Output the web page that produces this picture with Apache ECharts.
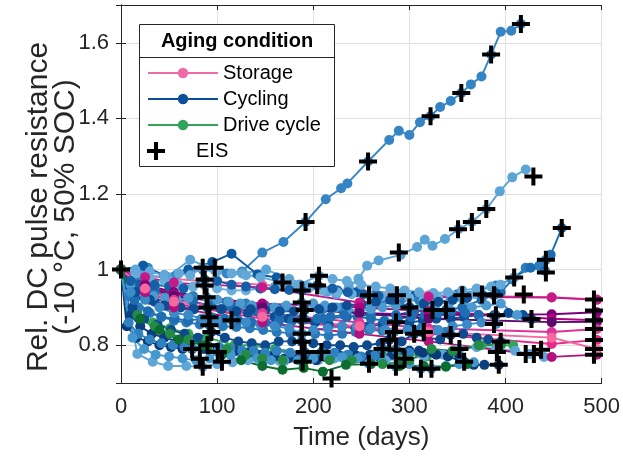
<!DOCTYPE html>
<html><head><meta charset="utf-8">
<script src="https://cdn.jsdelivr.net/npm/echarts@6/dist/echarts.min.js"></script>
<style>html,body{margin:0;padding:0;background:#fff}#c{width:623px;height:456px}</style>
</head><body><div id="c"></div>
<script>
// ---- data ----
const storageDays = [0, 25, 55, 147, 248, 320, 448, 495];
const storage1 = [1.0, 0.985, 0.975, 0.96, 0.945, 0.932, 0.927, 0.921];
const storage2 = [1.0, 0.98, 0.965, 0.953, 0.913, 0.928, 0.926, 0.92];
const storage3 = [1.0, 0.96, 0.94, 0.905, 0.885, 0.88, 0.882, 0.887];
const storage4 = [1.0, 0.96, 0.935, 0.91, 0.9, 0.89, 0.87, 0.866];
const storage5 = [1.0, 0.955, 0.93, 0.9, 0.885, 0.87, 0.861, 0.862];
const storage6 = [1.0, 0.95, 0.92, 0.885, 0.86, 0.845, 0.835, 0.843];
const storage7 = [1.0, 0.945, 0.91, 0.87, 0.845, 0.83, 0.803, 0.814];
const storage8 = [1.0, 0.94, 0.9, 0.86, 0.83, 0.81, 0.769, 0.775];
const storage9 = [1.0, 0.95, 0.915, 0.875, 0.85, 0.835, 0.82, 0.79];

const cycA = [[0,1],[10,0.95],[22,0.93],[35,0.915],[48,0.905],[62,0.9],[76,0.895],[90,0.9],[104,0.895],[118,0.89],[132,0.885],[146,0.88],[160,0.875],[174,0.87],[188,0.866],[202,0.86],[216,0.855],[230,0.85],[244,0.845],[258,0.85],[272,0.855],[286,0.861],[300,0.86],[314,0.865],[328,0.87],[343,0.87],[357,0.875],[372,0.88],[388,0.879],[403,0.885],[418,0.88],[427,0.869]];
const cycB = [[0,1],[23,1.01],[28,1.005],[48,0.98],[58,0.987],[85,1.0],[110,0.99],[126,0.995],[147,1.045],[169,1.073],[192,1.126],[213,1.186],[229,1.215],[235.5,1.228],[257,1.286],[279,1.343],[289,1.367],[300,1.356],[311,1.39],[322,1.406],[332,1.43],[343,1.446],[354,1.467],[364,1.49],[375,1.511],[385,1.569],[395,1.629],[406,1.632],[416,1.65]];
const cycC = [[0,1],[20,0.985],[48,0.98],[72,1.026],[97,1.0],[126,0.99],[151,1.0],[175,0.975],[195,0.955],[214,0.94],[224,0.935],[237,0.953],[247,0.976],[256,1.01],[268,1.024],[291,1.039],[308,1.06],[316,1.079],[324,1.063],[337,1.081],[351,1.107],[365,1.126],[380,1.16],[394,1.207],[407,1.244],[421,1.265]];
const cycD = [[0,1],[23,1.01],[45,0.985],[70,1.0],[95,1.02],[115,1.042],[142,0.987],[162,0.979],[186,0.96],[206,0.955],[225,0.945],[245,0.94],[265,0.935],[287,0.932],[305,0.93],[325,0.925],[345,0.93],[355,0.932],[375,0.934],[388,0.932]];
const cycE = [[0,1],[15,0.97],[35,0.95],[55,0.935],[75,0.93],[92,0.92],[110,0.915],[130,0.91],[150,0.905],[170,0.9],[191,0.893],[210,0.895],[230,0.9],[250,0.905],[270,0.91],[290,0.915],[310,0.92],[330,0.925],[350,0.935],[372,0.945],[390,0.958],[407,0.974],[421,1.005],[435,1.01],[442,1.026]];
const cycF = [[0,1],[15,0.96],[35,0.94],[55,0.925],[75,0.915],[94,0.905],[115,0.9],[140,0.89],[165,0.88],[188,0.87],[210,0.87],[235,0.875],[260,0.88],[286,0.88],[305,0.89],[324,0.893],[338,0.893],[355,0.9],[375,0.92],[395,0.94],[409,0.979],[426,1.005],[441,0.997],[447,1.039],[458.5,1.11]];
const cycG = [[0,1],[10,0.88],[20,0.85],[32,0.83],[45,0.82],[58,0.81],[72,0.8],[86,0.79],[100,0.785],[114,0.78],[128,0.775],[142,0.775],[156,0.77],[170,0.765],[184,0.765],[198,0.77],[212,0.77],[226,0.775],[240,0.77],[254,0.765],[268,0.77],[282,0.775],[296,0.78],[310,0.785],[324,0.78],[338,0.775],[352,0.77],[367,0.748],[378,0.748],[393,0.748]];
const cycH = [[0,1],[17,0.777],[33,0.756],[49,0.745],[68,0.745],[85,0.743],[100,0.75],[116,0.755],[132,0.76],[148,0.76],[165,0.758],[189,0.756],[205,0.76],[222,0.765],[240,0.77],[258,0.751],[275,0.76],[295,0.764],[315,0.77],[335,0.775],[352,0.79],[370,0.795],[390,0.79],[410,0.785],[425,0.777],[440,0.769]];
const cycI = [[0,1],[8,0.93],[18,0.9],[30,0.885],[42,0.875],[55,0.865],[68,0.86],[82,0.855],[92,0.853],[106,0.85],[120,0.848],[134,0.845],[148,0.84],[162,0.835],[176,0.832],[188,0.83],[202,0.83],[216,0.825],[230,0.83],[244,0.835],[258,0.84],[272,0.838],[284,0.835],[298,0.84],[312,0.845],[326,0.84],[338,0.835]];
const cycJ = [[0,1],[12,0.9],[24,0.87],[38,0.855],[52,0.84],[66,0.83],[80,0.82],[94,0.835],[108,0.82],[122,0.81],[136,0.805],[150,0.8],[164,0.81],[178,0.81],[188,0.809],[200,0.805],[214,0.8],[228,0.8],[242,0.795],[256,0.8],[270,0.805],[279,0.814],[292,0.81],[305,0.83],[318,0.82],[332,0.815],[343,0.827],[356,0.83],[370,0.82],[382,0.815],[395,0.809]];
const cycK = [[0,1],[10,0.96],[22,0.94],[34,0.93],[46,0.925],[58,0.92],[70,0.925],[89,0.927],[100,0.92],[112,0.915],[124,0.91],[136,0.905],[148,0.9],[160,0.9],[172,0.905],[188,0.913],[200,0.91],[212,0.905],[224,0.9],[236,0.895],[248,0.89],[260,0.895],[272,0.9],[286,0.905],[300,0.9],[314,0.905],[328,0.91],[342,0.915],[356,0.92],[365,0.9],[380,0.905],[395,0.91],[412,0.88]];
const cycL = [[0,1],[14,0.92],[28,0.89],[42,0.875],[56,0.87],[70,0.865],[84,0.87],[94,0.874],[108,0.87],[122,0.866],[136,0.86],[150,0.86],[164,0.862],[178,0.865],[191,0.868],[204,0.87],[218,0.875],[232,0.88],[246,0.875],[260,0.87],[274,0.865],[288,0.87],[302,0.875],[316,0.88],[330,0.885],[344,0.89],[358,0.885],[372,0.88],[390,0.879]];
const cycM = [[0,1],[6,0.85],[16,0.82],[28,0.81],[40,0.8],[52,0.795],[64,0.79],[74,0.79],[90,0.8],[104,0.79],[118,0.785],[132,0.78],[146,0.775],[160,0.77],[174,0.765],[189,0.756],[203,0.76],[217,0.765],[231,0.77],[245,0.772],[259,0.775],[272,0.79],[286,0.788],[300,0.785],[314,0.78],[328,0.775],[340,0.77],[357,0.756]];
const cycN = [[0,1],[15,0.99],[30,0.975],[45,0.97],[60,0.96],[75,0.955],[87,0.958],[100,0.95],[115,0.945],[130,0.945],[145,0.95],[160,0.955],[168,0.966],[180,0.96],[195,0.95],[210,0.945],[225,0.94],[240,0.935],[258,0.932],[272,0.93],[287,0.932],[300,0.925],[315,0.92],[330,0.925],[345,0.93],[355,0.932],[368,0.935],[376,0.934]];
const cycO = [[0,1],[10,0.97],[20,0.96],[35,0.96],[50,0.955],[65,0.95],[87,0.974],[100,0.97],[115,0.96],[130,0.955],[145,0.95],[160,0.948],[175,0.946],[188,0.945],[204,0.958],[220,0.95],[236,0.94],[252,0.935],[268,0.93],[284,0.92],[300,0.9]];
const cycP = [[0,1],[8,0.86],[18,0.83],[30,0.815],[42,0.805],[54,0.8],[66,0.795],[74,0.79],[90,0.8],[102,0.795],[114,0.79],[126,0.785],[138,0.785],[150,0.78],[162,0.785],[176,0.78],[191,0.782],[208.5,0.782],[222,0.78],[236,0.775],[250,0.77],[264,0.772],[272,0.79],[286,0.788],[300,0.78]];
const cycQ = [[0,1],[12,0.82],[24,0.79],[36,0.775],[50,0.77],[64,0.765],[78,0.76],[92,0.765],[100.6,0.782],[114,0.775],[128,0.77],[142,0.765],[156,0.76],[170,0.758],[184,0.76],[200,0.765],[214,0.77],[230,0.768],[246,0.765],[258,0.751],[272,0.755],[286,0.743],[300,0.75],[312,0.738],[323,0.738],[338,0.745],[352,0.75],[367,0.755]];
const cycR = [[0,1],[15,0.94],[30,0.92],[45,0.905],[60,0.9],[75,0.895],[90,0.9],[105,0.895],[120,0.89],[135,0.895],[150,0.893],[165,0.89],[180,0.89],[191,0.893],[206,0.895],[220,0.9],[235,0.905],[250,0.91],[265,0.915],[280,0.92],[300,0.9],[315,0.91],[330,0.915],[345,0.92],[360,0.925],[375,0.934],[390,0.94]];
const cycS = [[0,1],[10,0.94],[25,0.92],[40,0.9],[55,0.885],[70,0.88],[85,0.87],[100,0.865],[115,0.866],[130,0.86],[145,0.855],[160,0.85],[175,0.845],[188,0.83],[200,0.84],[215,0.845],[230,0.85],[245,0.85],[260,0.845],[275,0.84],[284,0.835],[298,0.84],[315,0.835],[330,0.84],[345,0.85],[360,0.855],[375,0.86],[390,0.856]];
const cycT = [[0,1],[15,1.0],[30,0.995],[45,0.985],[60,0.99],[72,0.985],[85,1.005],[100,0.995],[115,0.99],[130,0.985],[145,0.98],[168,0.966],[185,0.96],[206,0.984],[220,0.975],[235,0.97],[250,0.96],[265,0.955],[280,0.95],[295,0.945],[310,0.94],[325,0.938],[340,0.94],[355,0.945],[370,0.95],[385,0.955],[395,0.96],[409,0.979]];

const drive1 = [[0,1],[17,0.89],[33,0.86],[51,0.845],[70,0.83],[90,0.82],[118,0.8],[136,0.8],[160,0.79],[190,0.78],[217,0.77],[240,0.77],[260,0.775],[290,0.78],[318,0.77],[345,0.78],[375,0.8],[408,0.8]];
const drive2 = [[0,1],[17,0.88],[35,0.85],[51,0.83],[70,0.815],[90,0.8],[110,0.79],[130,0.775],[147,0.765],[168,0.76],[190,0.755],[217,0.76],[240,0.76],[272,0.75],[300,0.76],[323,0.79],[345,0.785],[372,0.8],[395,0.8]];
const drive3 = [[0,1],[20,0.87],[40,0.84],[60,0.815],[85,0.8],[105,0.775],[125,0.76],[147,0.745],[168,0.735],[190,0.74],[210,0.73],[234,0.748],[260,0.75],[290,0.745],[315,0.745],[338,0.743],[360,0.75]];

const eisPoints = [[0,1.0],[85,1.005],[97.5,1.005],[87,0.974],[87,0.958],[89,0.927],[90,0.9],[92,0.874],[92,0.853],[94,0.835],[74,0.79],[90,0.8],[100.6,0.782],[82,0.764],[105,0.756],[85,0.743],[115,0.866],
 [168,0.966],[206,0.984],[204,0.958],[188,0.945],[188,0.913],[191,0.893],[188,0.866],[188,0.83],[188,0.809],[191,0.782],[208.5,0.782],[189,0.756],[219,0.712],
 [192,1.126],[257,1.286],[322,1.406],[354,1.467],[385,1.569],[416,1.65],
 [258,0.932],[289,1.045],[287,0.932],[300,0.9],[324,0.893],[338,0.893],[286,0.861],[284,0.835],[279,0.814],[272,0.79],[286,0.788],[305,0.83],[315,0.835],[295,0.764],[258,0.751],[286,0.743],[312,0.738],[323,0.738],[343,0.827],[352,0.79],[357,0.756],[355,0.932],
 [350.6,1.107],[365,1.126],[380,1.16],[429,1.246],
 [375.5,0.934],[388,0.932],[390,0.879],[388,0.856],[395,0.809],[391,0.782],[393,0.748],[409,0.979],[419,0.934],[427,0.869],[421,0.777],[429.5,0.777],[437,0.788],[442,0.992],[442,1.026],[458.5,1.11],
 [492,0.921],[492,0.892],[492,0.866],[492,0.843],[492,0.814],[492,0.79],[492,0.775]];

const legendLines = ['Storage', 'Cycling', 'Drive cycle'];
const legendEis = ['EIS'];
const yTitleLines = ['Rel. DC pulse resistance', '(-10 °C, 50% SOC)'];

// ---- styles ----
const storageColors = ['#ef6aa6','#c51b8a','#7a0177','#ae017e','#5c0a6c','#dd3497','#e7298a','#b3127c','#f768a1'];
const cycleColors = ['#0b4f98','#3585c4','#5aa5d6','#0c5aa3','#2d7dbd','#1d6cb0','#0a3f80','#5ea6d8','#2a7aba','#0d4a8e','#4b9bd0','#1f6eb4','#0a3a78','#6aaedb','#155fa6','#2f81c2','#4597cf','#0e4d92','#3a8bc8','#62a8d8'];
const driveColors = ['#33a35a','#238b45','#0b6e30'];
const plusPath = 'path://M7,0H11V7H18V11H11V18H7V11H0V7H7Z';
const FONT = 'Liberation Sans, Arial, Helvetica, sans-serif';

function lineSeries(name, data, color) {
  return {
    name, type: 'line', data, symbol: 'circle', symbolSize: 10, showSymbol: true,
    lineStyle: { width: 1.9, color }, itemStyle: { color }, emphasis: { disabled: true },
    animation: false, z: 2
  };
}
const zip = (days, vals) => days.map((d, i) => [d, vals[i]]);

const series = [];
const cycles = [cycA,cycB,cycC,cycD,cycE,cycF,cycG,cycH,cycI,cycJ,cycK,cycL,cycM,cycN,cycO,cycP,cycQ,cycR,cycS,cycT];
const storages = [storage1,storage2,storage3,storage4,storage5,storage6,storage7,storage8,storage9];
const drives = [drive1,drive2,drive3];
series.push(lineSeries('Storage', zip(storageDays, storages[0]), storageColors[0]));
series.push(lineSeries('Cycling', cycles[0], cycleColors[0]));
series.push(lineSeries('Drive cycle', drives[0], driveColors[0]));
for (let i = 1; i < cycles.length; i++) series.push(lineSeries('Cycling', cycles[i], cycleColors[i % cycleColors.length]));
for (let i = 1; i < storages.length; i++) series.push(lineSeries('Storage', zip(storageDays, storages[i]), storageColors[i]));
for (let i = 1; i < drives.length; i++) series.push(lineSeries('Drive cycle', drives[i], driveColors[i]));
series.push({
  name: 'EIS', type: 'scatter', data: eisPoints, symbol: plusPath, symbolSize: 18,
  itemStyle: { color: '#000', opacity: 1 }, emphasis: { disabled: true }, animation: false, z: 5
});

const axisColor = '#262626';
const legendText = { fontSize: 20, color: '#000', fontFamily: FONT, lineHeight: 20 };
const chart = echarts.init(document.getElementById('c'), null, { renderer: 'canvas' });
chart.setOption({
  animation: false,
  backgroundColor: '#fff',
  textStyle: { fontFamily: FONT },
  grid: { left: 121, right: 20, top: 5, bottom: 68, containLabel: false },
  xAxis: [{
    type: 'value', min: 0, max: 500, interval: 100,
    name: 'Time (days)', nameLocation: 'middle', nameGap: 42,
    nameTextStyle: { fontSize: 26, color: axisColor, fontFamily: FONT },
    axisLine: { show: true, lineStyle: { color: axisColor, width: 1 } },
    axisTick: { show: true, inside: true, length: 5, lineStyle: { color: axisColor } },
    axisLabel: { fontSize: 22, color: axisColor, margin: 13, fontFamily: FONT },
    splitLine: { show: true, lineStyle: { color: '#e0e0e0', width: 1 } }
  }, {
    type: 'value', min: 0, max: 500, interval: 100, position: 'top',
    axisLine: { show: true, lineStyle: { color: axisColor, width: 1 } },
    axisTick: { show: true, inside: true, length: 5, lineStyle: { color: axisColor } },
    axisLabel: { show: false }, splitLine: { show: false }
  }],
  yAxis: [{
    type: 'value', min: 0.7, max: 1.7, splitNumber: 5,
    axisLine: { show: true, lineStyle: { color: axisColor, width: 1 } },
    axisTick: { show: true, inside: true, length: 5, lineStyle: { color: axisColor } },
    axisLabel: { fontSize: 22, color: axisColor, margin: 12, showMinLabel: false, showMaxLabel: false, fontFamily: FONT },
    splitLine: { show: true, lineStyle: { color: '#e0e0e0', width: 1 } }
  }, {
    type: 'value', min: 0.7, max: 1.7, splitNumber: 5, position: 'right',
    axisLine: { show: true, lineStyle: { color: axisColor, width: 1 } },
    axisTick: { show: true, inside: true, length: 5, lineStyle: { color: axisColor } },
    axisLabel: { show: false }, splitLine: { show: false }
  }],
  legend: [{
    data: legendLines, orient: 'vertical', left: 142, top: 58, padding: 5,
    itemWidth: 70, itemHeight: 13, itemGap: 6, z: 10,
    textStyle: legendText, selectedMode: false
  }, {
    data: legendEis, orient: 'vertical', left: 142, top: 136, padding: 5,
    itemWidth: 70, itemHeight: 18, itemGap: 6, z: 10,
    textStyle: legendText, selectedMode: false
  }],
  graphic: [
    { type: 'rect', z: 8, shape: { x: 139.5, y: 24.5, width: 195, height: 142 }, style: { fill: '#fff', stroke: '#262626', lineWidth: 1 } },
    { type: 'line', z: 9, shape: { x1: 139.5, y1: 57.5, x2: 334.5, y2: 57.5 }, style: { stroke: '#262626', lineWidth: 1 } },
    { type: 'text', z: 9, x: 237, y: 41, style: { text: 'Aging condition', font: 'bold 20px ' + FONT, fill: '#000', align: 'center', verticalAlign: 'middle' } },
    { type: 'text', z: 9, x: 39, y: 207, rotation: Math.PI / 2, style: { text: yTitleLines[0], font: '30px ' + FONT, fill: axisColor, align: 'center', verticalAlign: 'middle' } },
    { type: 'text', z: 9, x: 66, y: 207, rotation: Math.PI / 2, style: { text: yTitleLines[1], font: '30px ' + FONT, fill: axisColor, align: 'center', verticalAlign: 'middle' } }
  ],
  series
});
</script></body></html>
